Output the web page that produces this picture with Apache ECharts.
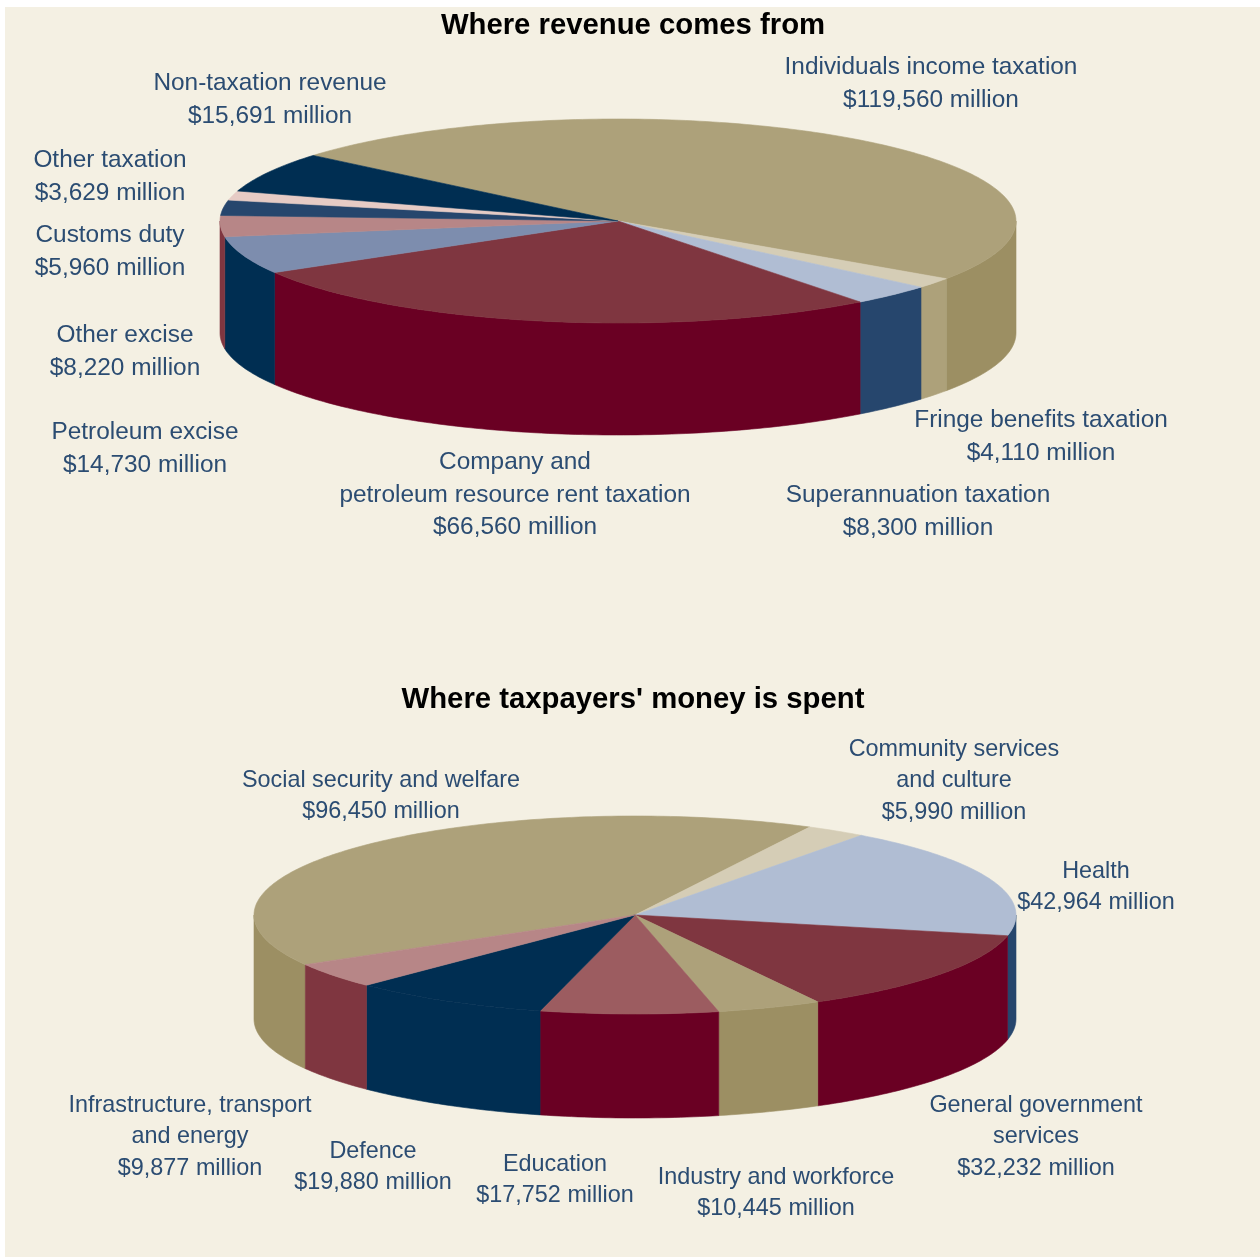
<!DOCTYPE html>
<html>
<head>
<meta charset="utf-8">
<style>html,body{margin:0;padding:0;background:#fff}#chart{width:1260px;height:1257px}</style>
<script src="https://cdn.jsdelivr.net/npm/echarts@6/dist/echarts.min.js"></script>
</head>
<body>
<div id="chart"></div>
<script>
// Commonwealth budget: revenue and spending, in $ million
const revenueNames = ['Individuals income taxation', 'Fringe benefits taxation', 'Superannuation taxation',
  'Company and\npetroleum resource rent taxation', 'Petroleum excise', 'Other excise', 'Customs duty',
  'Other taxation', 'Non-taxation revenue'];
const revenueValues = [119560, 4110, 8300, 66560, 14730, 8220, 5960, 3629, 15691];

const spendingNames = ['Social security and welfare', 'Community services\nand culture', 'Health',
  'General government\nservices', 'Industry and workforce', 'Education', 'Defence',
  'Infrastructure, transport\nand energy'];
const spendingValues = [96450, 5990, 42964, 32232, 10445, 17752, 19880, 9877];

// Slice styling: face colour on top, wall colour on the rim
const revenueTop = ['#ada17a', '#d5cdb6', '#b0bdd3', '#7f3640', '#7d8dae', '#b78687', '#26466d', '#e6cbc5', '#002e52'];
const revenueWall = ['#9c8f63', '#ada17a', '#26466d', '#6a0023', '#002e52', '#7f3640', '#26466d', '#e6cbc5', '#002e52'];
const spendingTop = ['#ada17a', '#d5cdb6', '#b0bdd3', '#7f3640', '#ada17a', '#9c5c60', '#002e52', '#b78687'];
const spendingWall = ['#9c8f63', '#ada17a', '#26466d', '#6a0023', '#9c8f63', '#6a0023', '#002e52', '#7f3640'];

// Label centres, in slice order
const revenueLabelAt = [[931, 84], [1041, 437], [918, 512], [515, 495], [145, 449], [125, 352], [110, 252], [110, 177], [270, 100]];
const spendingLabelAt = [[381, 796], [954, 781], [1096, 887], [1036, 1137], [776, 1193], [555, 1180], [373, 1167], [190, 1137]];

const LABEL_FAMILY = '"Liberation Sans", Arial, sans-serif';
const LABEL_COLOR = '#2b4c72';

function ellipsePoints(shape, from, to, offset) {
  const pts = [];
  const steps = Math.max(2, Math.ceil(Math.abs(to - from)));
  for (let i = 0; i <= steps; i++) {
    const a = (from + (to - from) * i / steps) * Math.PI / 180;
    pts.push([shape.cx + shape.rx * Math.cos(a), shape.cy + shape.ry * Math.sin(a) + offset]);
  }
  return pts;
}

function drumSeries(names, values, tops, walls, labelAt, shape) {
  const total = values.reduce((s, v) => s + v, 0);
  const fmt = v => '$' + v.toLocaleString('en-US') + ' million';
  return {
    type: 'custom',
    coordinateSystem: 'none',
    silent: true,
    animation: false,
    data: values.map((v, i) => ({ name: names[i], value: v })),
    renderItem(params, api) {
      const i = params.dataIndex;
      const before = values.slice(0, i).reduce((s, v) => s + v, 0);
      const a0 = shape.start + before / total * 360;
      const a1 = a0 + api.value(0) / total * 360;
      const children = [];

      // Rim: only the near half of the drum faces the viewer
      [[0, 180], [360, 540], [720, 900]].forEach(([lo, hi]) => {
        const from = Math.max(a0, lo), to = Math.min(a1, hi);
        if (to <= from) return;
        const upper = ellipsePoints(shape, from, to, 0);
        const lower = ellipsePoints(shape, from, to, shape.depth).reverse();
        children.push({
          type: 'polygon', z2: 1,
          shape: { points: upper.concat(lower) },
          style: { fill: walls[i], stroke: walls[i], lineWidth: 0.6 }
        });
      });

      // Top face
      children.push({
        type: 'polygon', z2: 2,
        shape: { points: [[shape.cx, shape.cy]].concat(ellipsePoints(shape, a0, a1, 0)) },
        style: { fill: tops[i], stroke: tops[i], lineWidth: 0.6 }
      });

      // Label: name lines and the amount
      children.push({
        type: 'text', z2: 3,
        style: {
          text: names[i] + '\n' + fmt(values[i]),
          x: labelAt[i][0], y: labelAt[i][1],
          align: 'center', verticalAlign: 'middle',
          font: shape.labelSize + 'px ' + LABEL_FAMILY, lineHeight: shape.labelLine, fill: LABEL_COLOR
        }
      });
      return { type: 'group', children };
    }
  };
}

const chart = echarts.init(document.getElementById('chart'), null, { renderer: 'canvas' });
const titleStyle = { color: '#000', fontFamily: '"Liberation Sans", Arial, sans-serif', fontWeight: 'bold', fontSize: 29.3 };
chart.setOption({
  backgroundColor: '#ffffff',
  animation: false,
  graphic: [{
    type: 'rect', z: -10,
    shape: { x: 5, y: 7, width: 1255, height: 1250 },
    style: { fill: '#f4f0e3' }
  }],
  title: [
    { text: 'Where revenue comes from', left: 628, top: 6, textAlign: 'center', textStyle: titleStyle },
    { text: "Where taxpayers' money is spent", left: 628, top: 680, textAlign: 'center', textStyle: titleStyle }
  ],
  series: [
    drumSeries(revenueNames, revenueValues, revenueTop, revenueWall, revenueLabelAt,
      { cx: 618, cy: 221, rx: 398, ry: 102, depth: 112, start: 220, labelSize: 24.4, labelLine: 32.5 }),
    drumSeries(spendingNames, spendingValues, spendingTop, spendingWall, spendingLabelAt,
      { cx: 635, cy: 915, rx: 381, ry: 99, depth: 104, start: 149.9, labelSize: 23.4, labelLine: 31.5 })
  ]
});
</script>
</body>
</html>
